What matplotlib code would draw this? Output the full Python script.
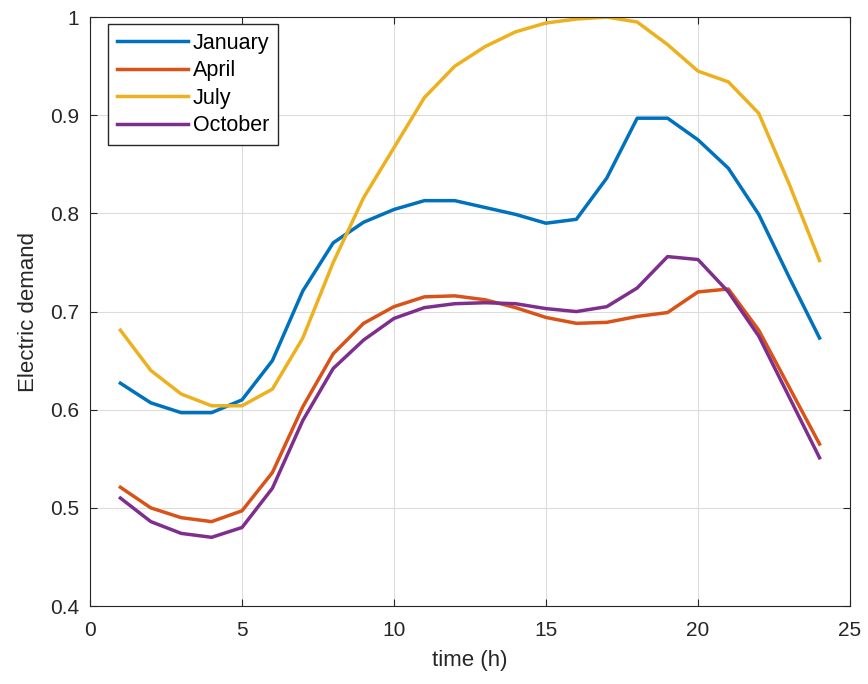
import numpy as np
import matplotlib
matplotlib.use("Agg")
import matplotlib.pyplot as plt
from matplotlib.ticker import FuncFormatter

hours = list(range(1, 25))
january = [0.627, 0.607, 0.597, 0.597, 0.610, 0.650, 0.721, 0.770, 0.791, 0.804,
           0.813, 0.813, 0.806, 0.799, 0.790, 0.794, 0.836, 0.897, 0.897, 0.875,
           0.846, 0.799, 0.735, 0.673]
april = [0.521, 0.500, 0.490, 0.486, 0.497, 0.536, 0.603, 0.657, 0.688, 0.705,
         0.715, 0.716, 0.712, 0.704, 0.694, 0.688, 0.689, 0.695, 0.699, 0.720,
         0.723, 0.681, 0.623, 0.565]
july = [0.681, 0.640, 0.616, 0.604, 0.604, 0.621, 0.673, 0.750, 0.816, 0.867,
        0.918, 0.950, 0.970, 0.985, 0.994, 0.998, 1.000, 0.995, 0.972, 0.945,
        0.934, 0.902, 0.830, 0.752]
october = [0.510, 0.486, 0.474, 0.470, 0.480, 0.520, 0.589, 0.642, 0.671, 0.693,
           0.704, 0.708, 0.709, 0.708, 0.703, 0.700, 0.705, 0.724, 0.756, 0.753,
           0.720, 0.675, 0.613, 0.551]
labels = ["January", "April", "July", "October"]
colors = ["#0072BD", "#D95319", "#EDB120", "#7E2F8E"]

plt.rcParams['font.family'] = ['Liberation Sans', 'DejaVu Sans']

fig = plt.figure(figsize=(8.68, 6.84), dpi=100)
ax = fig.add_axes([0.1037, 0.114, 0.8755, 0.861])

for series, lab, col in zip([january, april, july, october], labels, colors):
    ax.plot(hours, series, color=col, lw=2.5, label=lab)

ax.set_xlim(0, 25)
ax.set_ylim(0.4, 1.0)
ax.set_xticks([0, 5, 10, 15, 20, 25])
ax.set_yticks([0.4, 0.5, 0.6, 0.7, 0.8, 0.9, 1.0])
ax.yaxis.set_major_formatter(FuncFormatter(lambda v, p: "%g" % round(v, 2)))
ax.grid(True, color="#dcdcdc", lw=0.8)
ax.tick_params(direction="in", top=True, right=True, labelsize=15,
               colors="#262626", length=5)
ax.tick_params(axis="x", pad=11)
ax.tick_params(axis="y", pad=8)
for s in ax.spines.values():
    s.set_color("#262626")
ax.set_xlabel("time (h)", fontsize=16, color="#262626", labelpad=7)
ax.set_ylabel("Electric demand", fontsize=16, color="#262626", labelpad=8)

leg = ax.legend(loc="upper left", bbox_to_anchor=(0.0237, 0.988), borderaxespad=0,
                fontsize=15.5, fancybox=False, framealpha=1,
                edgecolor="#262626", handlelength=3.3, borderpad=0.4,
                labelspacing=0.3, handletextpad=0.25)
leg.get_frame().set_linewidth(1.0)

fig.savefig("out.png", dpi=100)
